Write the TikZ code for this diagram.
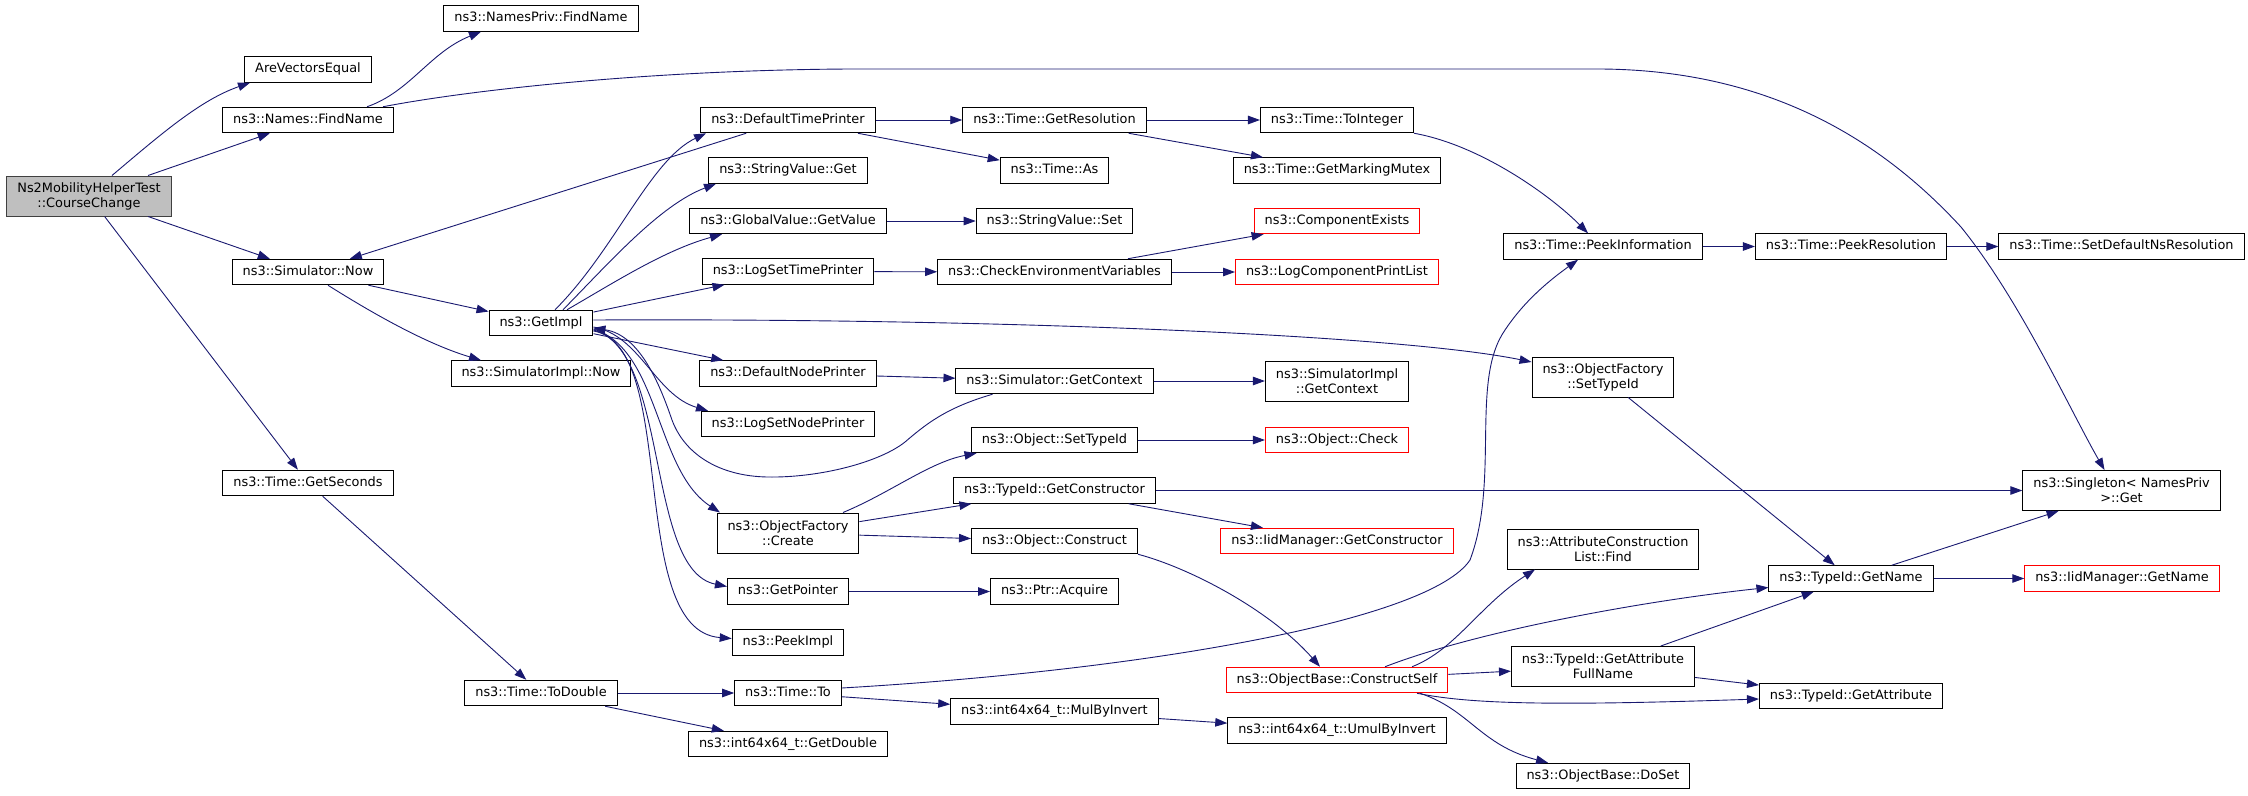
\documentclass[tikz,border=0pt]{standalone}
\usepackage{fontspec}
\setmainfont{DejaVu Sans}
\usetikzlibrary{arrows.meta}
\definecolor{edgeblue}{RGB}{25,25,112}
\definecolor{boxgrey}{RGB}{191,191,191}
\definecolor{boxline}{RGB}{64,64,64}
\tikzset{
  box/.style={draw=black, line width=1pt, fill=white, inner xsep=10.5pt, inner ysep=0pt,
    font=\fontsize{12.9}{15}\selectfont},
  fn/.style={box, minimum height=25.5pt, text height=9.4pt, text depth=2.6pt},
  fntwo/.style={box, align=center, minimum height=40pt},
  missing/.style={draw=red},
  edge/.style={draw=edgeblue, line width=0.9pt, -{Triangle[length=12pt,width=8.5pt]}}
}
\begin{document}
\begin{tikzpicture}[x=1pt,y=-1pt]
\useasboundingbox (0,0) rectangle (2248,795);
\node[fntwo, fill=boxgrey, draw=boxline] (cc) at (89,196) {Ns2MobilityHelperTest\\::CourseChange};
\node[fn] (arevec) at (308,69.5) {AreVectorsEqual};
\node[fn] (names) at (308,120) {ns3::Names::FindName};
\node[fn] (simnow) at (308,272) {ns3::Simulator::Now};
\node[fn] (getsec) at (308,483) {ns3::Time::GetSeconds};
\node[fn] (npriv) at (541,18.5) {ns3::NamesPriv::FindName};
\node[fn] (getimpl) at (541,323) {ns3::GetImpl};
\node[fn] (simimplnow) at (541,373.5) {ns3::SimulatorImpl::Now};
\node[fn] (todouble) at (541,693) {ns3::Time::ToDouble};
\node[fn] (dtp) at (788,120) {ns3::DefaultTimePrinter};
\node[fn] (svget) at (788,170.5) {ns3::StringValue::Get};
\node[fn] (gvget) at (788,221) {ns3::GlobalValue::GetValue};
\node[fn] (lstp) at (788,271.5) {ns3::LogSetTimePrinter};
\node[fn] (dnp) at (788,373.5) {ns3::DefaultNodePrinter};
\node[fn] (lsnp) at (788,424) {ns3::LogSetNodePrinter};
\node[fntwo] (ofcreate) at (788,533) {ns3::ObjectFactory\\::Create};
\node[fn] (getptr) at (788,591.5) {ns3::GetPointer};
\node[fn] (peekimpl) at (788,642.5) {ns3::PeekImpl};
\node[fn] (timeto) at (788,693) {ns3::Time::To};
\node[fn] (getdouble) at (788,744) {ns3::int64x64\_t::GetDouble};
\node[fn] (getres) at (1054.5,120) {ns3::Time::GetResolution};
\node[fn] (timeas) at (1054.5,170.5) {ns3::Time::As};
\node[fn] (svset) at (1054.5,221) {ns3::StringValue::Set};
\node[fn] (checkenv) at (1054.5,272) {ns3::CheckEnvironmentVariables};
\node[fn] (simgetctx) at (1054.5,381) {ns3::Simulator::GetContext};
\node[fn] (objsettid) at (1054.5,440) {ns3::Object::SetTypeId};
\node[fn] (tidgetctor) at (1054.5,490.5) {ns3::TypeId::GetConstructor};
\node[fn] (objconstruct) at (1054.5,541) {ns3::Object::Construct};
\node[fn] (ptracq) at (1054.5,591.5) {ns3::Ptr::Acquire};
\node[fn] (mulinv) at (1054.5,711.5) {ns3::int64x64\_t::MulByInvert};
\node[fn] (toint) at (1337,120) {ns3::Time::ToInteger};
\node[fn] (markmutex) at (1337,170.5) {ns3::Time::GetMarkingMutex};
\node[fn, missing] (compexists) at (1337,221) {ns3::ComponentExists};
\node[fn, missing] (logcpl) at (1337,272) {ns3::LogComponentPrintList};
\node[fntwo] (simimplctx) at (1337,381) {ns3::SimulatorImpl\\::GetContext};
\node[fn, missing] (objcheck) at (1337,440) {ns3::Object::Check};
\node[fn, missing] (iidctor) at (1337,541) {ns3::IidManager::GetConstructor};
\node[fn, missing] (constructself) at (1337,680) {ns3::ObjectBase::ConstructSelf};
\node[fn] (umulinv) at (1337,730.5) {ns3::int64x64\_t::UmulByInvert};
\node[fn] (peekinfo) at (1603,246.5) {ns3::Time::PeekInformation};
\node[fntwo] (ofsettid) at (1603,377) {ns3::ObjectFactory\\::SetTypeId};
\node[fntwo] (attrfind) at (1603,549) {ns3::AttributeConstruction\\List::Find};
\node[fntwo] (getattrfull) at (1603,666.5) {ns3::TypeId::GetAttribute\\FullName};
\node[fn] (doset) at (1603,776) {ns3::ObjectBase::DoSet};
\node[fn] (peekres) at (1851,246.5) {ns3::Time::PeekResolution};
\node[fn] (tidgetname) at (1851,578.5) {ns3::TypeId::GetName};
\node[fn] (getattr) at (1851,696) {ns3::TypeId::GetAttribute};
\node[fn] (setdefres) at (2121.5,246.5) {ns3::Time::SetDefaultNsResolution};
\node[fntwo] (sing) at (2121.5,490.5) {ns3::Singleton< NamesPriv\\ >::Get};
\node[fn, missing] (iidname) at (2122,578.5) {ns3::IidManager::GetName};
% straight calls
\foreach \a/\b in {cc/names, cc/simnow, cc/getsec, simnow/getimpl, getimpl/lstp, getimpl/dnp,
  dtp/simnow, dtp/getres, dtp/timeas, getres/toint, getres/markmutex, gvget/svset, lstp/checkenv,
  checkenv/compexists, checkenv/logcpl, dnp/simgetctx, simgetctx/simimplctx, ofcreate/tidgetctor,
  ofcreate/objconstruct, objsettid/objcheck, tidgetctor/iidctor, tidgetctor/sing, getptr/ptracq,
  getsec/todouble, todouble/timeto, todouble/getdouble, timeto/mulinv, mulinv/umulinv,
  constructself/getattrfull, getattrfull/tidgetname, getattrfull/getattr, ofsettid/tidgetname,
  tidgetname/sing, tidgetname/iidname, peekinfo/peekres, peekres/setdefres}
  \draw[edge] (\a) -- (\b);
% curved calls
\draw[edge] ([xshift=23pt]cc.north) .. controls (160,135) and (200,100) .. ([xshift=-58pt]arevec.south);
\draw[edge] ([xshift=59pt]names.north) .. controls (410,92) and (430,52) .. ([xshift=-60pt]npriv.south);
\draw[edge] ([xshift=75pt]names.north) .. controls (470,90) and (650,70) .. (850,69) -- (1600,69)
  .. controls (1780,70) and (1890,150) .. (1961,227) .. controls (2020,300) and (2070,410) .. ([xshift=-17pt]sing.north);
\draw[edge] ([xshift=20pt]simnow.south) .. controls (380,318) and (430,345) .. ([xshift=-60pt]simimplnow.north);
\draw[edge] ([xshift=14pt]getimpl.north) .. controls (615,250) and (650,160) .. ([xshift=-82pt]dtp.south);
\draw[edge] ([xshift=22pt]getimpl.north) .. controls (610,262) and (660,205) .. ([xshift=-72pt]svget.south);
\draw[edge] ([xshift=26pt]getimpl.north) .. controls (615,282) and (665,250) .. ([xshift=-66pt]gvget.south);
\draw[edge] ([yshift=3pt]getimpl.east) .. controls (1000,318) and (1400,335) .. ([yshift=15pt]ofsettid.west);
\draw[edge] ([yshift=-4pt]getimpl.east) .. controls (640,335) and (655,395) .. ([xshift=-80pt]lsnp.north);
\draw[edge] ([yshift=-6pt]getimpl.east) .. controls (660,350) and (655,470) .. ([xshift=-68pt]ofcreate.north);
\draw[edge] ([yshift=-7pt]getimpl.east) .. controls (670,350) and (645,570) .. ([yshift=5pt]getptr.west);
\draw[edge] ([yshift=-8pt]getimpl.east) .. controls (680,345) and (625,630) .. ([yshift=4pt]peekimpl.west);
\draw[edge] ([xshift=-62pt]simgetctx.south) .. controls (945,408) and (925,425) .. (905,442)
  .. controls (880,462) and (820,478) .. (767,477) .. controls (720,476) and (685,455) .. (672,420)
  .. controls (660,385) and (640,335) .. ([yshift=-5pt]getimpl.east);
\draw[edge] (toint.south east) .. controls (1480,145) and (1550,195) .. ([xshift=-15pt]peekinfo.north);
\draw[edge] ([xshift=55pt]ofcreate.north) .. controls (890,493) and (930,462) .. ([xshift=-78pt]objsettid.south);
\draw[edge] (objconstruct.south east) .. controls (1190,568) and (1270,610) .. ([xshift=-17pt]constructself.north);
\draw[edge] ([yshift=5pt]timeto.east) .. controls (1150,670) and (1430,620) .. (1470,560)
  .. controls (1500,480) and (1470,380) .. (1505,330) .. controls (1525,300) and (1550,280) .. ([xshift=-25pt]peekinfo.south);
\draw[edge] ([xshift=75pt]constructself.north) .. controls (1455,650) and (1480,605) .. ([xshift=-68pt]attrfind.south);
\draw[edge] ([xshift=48pt]constructself.north) .. controls (1480,630) and (1650,600) .. ([yshift=-9pt]tidgetname.west);
\draw[edge] ([xshift=80pt]constructself.south) .. controls (1470,704) and (1550,706) .. ([yshift=-3pt]getattr.west);
\draw[edge] ([xshift=83pt]constructself.south) .. controls (1470,710) and (1480,745) .. ([xshift=-55pt]doset.north);
\end{tikzpicture}
\end{document}
